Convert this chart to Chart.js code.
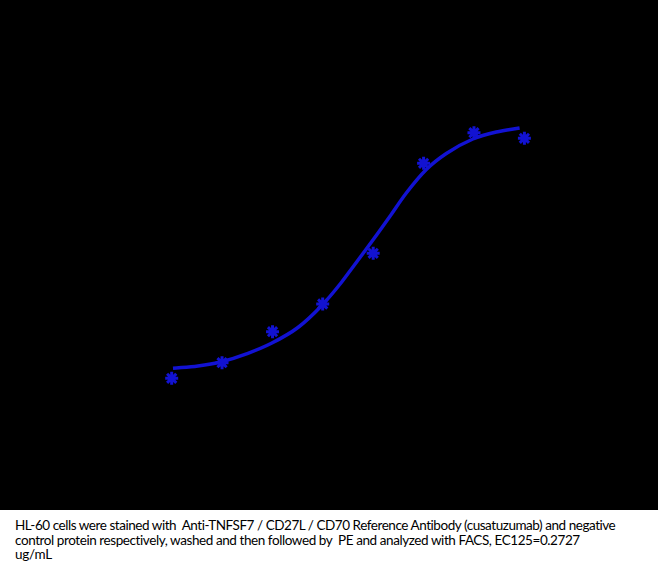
<!DOCTYPE html>
<html>
<head>
<meta charset="utf-8">
<script src="https://cdn.jsdelivr.net/npm/chart.js@4.4.1/dist/chart.umd.min.js"></script>
<style>
  html, body { margin: 0; padding: 0; background: #ffffff; }
  #wrap { position: relative; width: 658px; height: 510px; background: #000000; }
  #caption {
    position: absolute; left: 15px; top: 518px;
    font-family: Lato, "Open Sans", sans-serif; font-size: 13.5px; line-height: 14.5px;
    color: #000000; white-space: nowrap;
  }
  #caption span { display: inline-block; white-space: pre; }
</style>
</head>
<body>
<div id="wrap"><canvas id="c" width="658" height="510"></canvas></div>
<div id="caption"><span data-w="601">HL-60 cells were stained with  Anti-TNFSF7 / CD27L / CD70 Reference Antibody (cusatuzumab) and negative</span><br><span data-w="565">control protein respectively, washed and then followed by  PE and analyzed with FACS, EC125=0.2727</span><br><span data-w="37">ug/mL</span></div>
<script>
// Concentrations (ug/mL), 3-fold dilution series
const concentrations = [0.00457, 0.0137, 0.0412, 0.123, 0.370, 1.11, 3.33, 10];
// Measured signal (MFI)
const measured = [617, 773, 1083, 1360, 1867, 2767, 3073, 3017];
// Fitted curve
const curveX = [0.0047, 0.00811, 0.0135, 0.0241, 0.0402, 0.0717, 0.1194, 0.1847, 0.2378, 0.3679, 0.5294, 0.7616, 1.178, 1.822, 3.254, 5.42, 9.006];
const curveY = [717, 740, 783, 867, 967, 1125, 1340, 1575, 1730, 2000, 2233, 2470, 2705, 2865, 3010, 3080, 3120];

const blue = '#1212D2';

// fit caption lines to the reference widths
document.querySelectorAll('#caption span').forEach(s => {
  const target = parseFloat(s.dataset.w);
  const w = s.getBoundingClientRect().width;
  const n = s.textContent.length;
  s.style.letterSpacing = ((target - w) / n) + 'px';
});

new Chart(document.getElementById('c'), {
  type: 'scatter',
  data: {
    datasets: [
      {
        label: 'Fit',
        type: 'line',
        data: curveX.map((x, i) => ({ x: x, y: curveY[i] })),
        borderColor: blue,
        borderWidth: 3.5,
        pointRadius: 0,
        cubicInterpolationMode: 'monotone',
        fill: false
      },
      {
        label: 'Data',
        data: concentrations.map((x, i) => ({ x: x, y: measured[i] })),
        pointStyle: 'star',
        pointRadius: 6.5,
        borderColor: blue,
        backgroundColor: blue,
        borderWidth: 3
      }
    ]
  },
  options: {
    responsive: false,
    animation: false,
    layout: { autoPadding: false, padding: { left: 102, right: 28, top: 40, bottom: 70 } },
    plugins: { legend: { display: false }, tooltip: { enabled: false } },
    scales: {
      x: { type: 'logarithmic', min: 0.001, max: 100, display: false },
      y: { type: 'linear', min: 0, max: 4000, display: false }
    }
  }
});
</script>
</body>
</html>
